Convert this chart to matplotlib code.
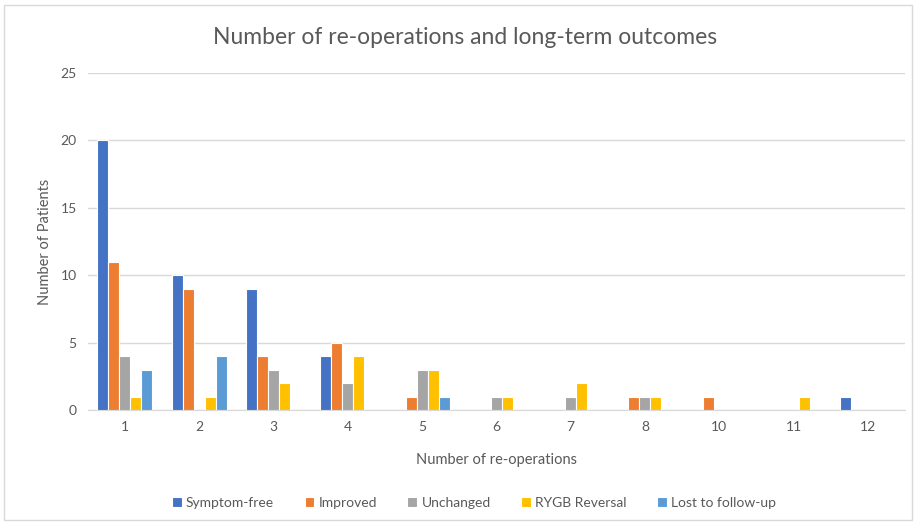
import matplotlib.pyplot as plt
import numpy as np
from matplotlib.patches import Rectangle

# re-operation counts on the x axis
categories = ['1', '2', '3', '4', '5', '6', '7', '8', '10', '11', '12']

symptom_free = [20, 10, 9, 4, 0, 0, 0, 0, 0, 0, 1]
improved = [11, 9, 4, 5, 1, 0, 0, 1, 1, 0, 0]
unchanged = [4, 0, 3, 2, 3, 1, 1, 1, 0, 0, 0]
rygb_reversal = [1, 1, 2, 4, 3, 1, 2, 1, 0, 1, 0]
lost_follow_up = [3, 4, 0, 0, 1, 0, 0, 0, 0, 0, 0]

series = [
    ('Symptom-free', symptom_free, '#4472C4'),
    ('Improved', improved, '#ED7D31'),
    ('Unchanged', unchanged, '#A5A5A5'),
    ('RYGB Reversal', rygb_reversal, '#FFC000'),
    ('Lost to follow-up', lost_follow_up, '#5B9BD5'),
]

plt.rcParams['font.family'] = ['Lato', 'DejaVu Sans']
txt = '#595959'
grid = '#D9D9D9'

fig = plt.figure(figsize=(9.15, 5.25), dpi=100)
ax = fig.add_axes([0.096, 0.219, 0.893, 0.642])

x = np.arange(len(categories))
slot = 0.148
for i, (name, vals, col) in enumerate(series):
    ax.bar(x + (i - 2) * slot, vals, width=slot, color=col,
           edgecolor='white', linewidth=0.8, label=name, zorder=3)

ax.set_xlim(-0.5, len(categories) - 0.5)
ax.set_ylim(0, 25)
ax.set_yticks(range(0, 26, 5))
ax.set_xticks(x)
ax.set_xticklabels(categories)
ax.grid(axis='y', color=grid, linewidth=1, zorder=0)
ax.tick_params(length=0, colors=txt, labelsize=10, pad=8)
for s in ['top', 'right', 'left']:
    ax.spines[s].set_visible(False)
ax.spines['bottom'].set_color(grid)

ax.set_xlabel('Number of re-operations', color=txt, fontsize=10.5, labelpad=14)
ax.set_ylabel('Number of Patients', color=txt, fontsize=10.5, labelpad=6)
fig.text(0.508, 0.928, 'Number of re-operations and long-term outcomes',
         ha='center', va='center', color=txt, fontsize=16.5)

fig.legend(loc='center', bbox_to_anchor=(474 / 915, 1 - 503 / 525),
           bbox_transform=fig.transFigure,
           ncol=5, frameon=False, fontsize=10, handlelength=0.7, handleheight=0.7,
           handletextpad=0.3, columnspacing=2.2, labelcolor=txt)

# light frame round the whole chart
fig.patches.append(Rectangle((4 / 915, 5 / 525), 908 / 915, 515 / 525,
                             transform=fig.transFigure, fill=False,
                             edgecolor=grid, linewidth=1))

fig.savefig('out.png', dpi=100)
